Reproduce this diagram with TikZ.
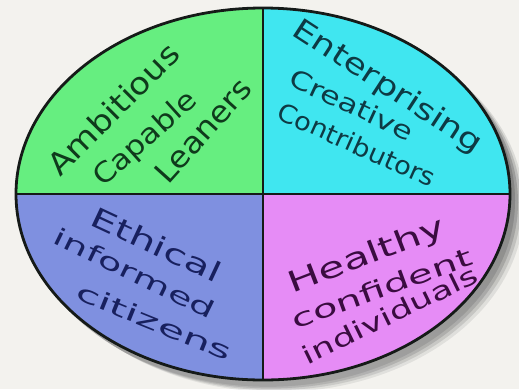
\documentclass[tikz,border=0pt]{standalone}
\usepackage{fontspec}
\setmainfont{DejaVu Sans}
\usepackage{graphicx}
\definecolor{bg}{HTML}{F3F2EE}
\definecolor{qgreen}{HTML}{66EE80}
\definecolor{qcyan}{HTML}{40E6F0}
\definecolor{qblue}{HTML}{7F90E0}
\definecolor{qpink}{HTML}{E68CF6}
\definecolor{tgreen}{HTML}{0F3A1C}
\definecolor{tcyan}{HTML}{0E3A44}
\definecolor{tblue}{HTML}{18205E}
\definecolor{tpink}{HTML}{3A0C40}
\definecolor{rim}{HTML}{151A18}
\definecolor{shade}{HTML}{B8B8B0}
\tikzset{
  word/.style={inner sep=0pt, outer sep=0pt, anchor=base},
  rimline/.style={draw=rim, line width=2.8pt},
  divline/.style={draw=rim, line width=2.2pt},
}
\newcommand{\wrd}[3]{\resizebox{#1pt}{#2pt}{#3}}
\begin{document}
\begin{tikzpicture}[x=1pt,y=-1pt]
\useasboundingbox (0,0) rectangle (519,389);
\fill[bg] (0,0) rectangle (519,389);
% shadow
\foreach \o/\op in {15/0.08,12/0.13,9/0.2,6/0.28}{
  \fill[shade,opacity=\op] (262+\o,197+0.6*\o) ellipse[x radius=247, y radius=186];
}
\coordinate (c) at (263,194);
% quadrants
\fill[qgreen] (c) -- ++(-247,0) arc[start angle=180,end angle=90,x radius=247,y radius=-186] -- cycle;
\fill[qcyan] (c) -- ++(0,-186) arc[start angle=90,end angle=0,x radius=247,y radius=-186] -- cycle;
\fill[qpink] (c) -- ++(247,0) arc[start angle=0,end angle=-90,x radius=247,y radius=-186] -- cycle;
\fill[qblue] (c) -- ++(0,186) arc[start angle=-90,end angle=-180,x radius=247,y radius=-186] -- cycle;
% dividers
\coordinate (top) at (263,8);
\coordinate (bot) at (263,380);
\coordinate (lft) at (16,194);
\coordinate (rgt) at (510,194);
\draw[divline] (top) -- (bot);
\draw[divline] (lft) -- (rgt);
\draw[rimline] (c) ellipse[x radius=247, y radius=186];
% green (base anchors)
\node[word,text=tgreen,rotate=45] (g1) at (121,117) {\wrd{172}{23}{Ambitious}};
\node[word,text=tgreen,rotate=42] (g2) at (151,145) {\wrd{128}{21}{Capable}};
\node[word,text=tgreen,rotate=48] (g3) at (211,138) {\wrd{128}{22}{Leaners}};
% cyan
\node[word,text=tcyan,rotate=-33] (c1) at (383,94) {\wrd{220}{22}{Enterprising}};
\node[word,text=tcyan,rotate=-25] (c2) at (348,113) {\wrd{134}{19}{Creative}};
\node[word,text=tcyan,rotate=-24] (c3) at (353,153) {\wrd{170}{19}{Contributors}};
% blue
\node[word,text=tblue,rotate=-25] (b1) at (152,254) {\wrd{140}{21}{Ethical}};
\node[word,text=tblue,rotate=-26] (b2) at (131,281) {\wrd{176}{18}{informed}};
\node[word,text=tblue,rotate=-22] (b3) at (151,330) {\wrd{166}{18}{citizens}};
% pink
\node[word,text=tpink,rotate=21] (p1) at (370,264) {\wrd{166}{22}{Healthy}};
\node[word,text=tpink,rotate=20] (p2) at (385,297) {\wrd{190}{19}{confident}};
\node[word,text=tpink,rotate=26] (p3) at (394,323) {\wrd{192}{19}{individuals}};
\end{tikzpicture}
\end{document}
